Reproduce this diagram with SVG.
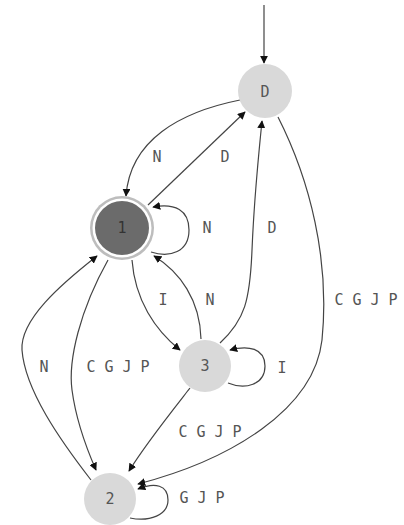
<svg xmlns="http://www.w3.org/2000/svg" width="404" height="525" viewBox="0 0 404 525">
<style>
.e{fill:none;stroke:#444;stroke-width:1.2;marker-end:url(#ah)}
.t{font-family:"DejaVu Sans Mono",monospace;font-size:15px;fill:#555;text-anchor:middle;dominant-baseline:central}
.n{fill:#d9d9d9}
</style>
<defs>
<marker id="ah" viewBox="0 0 10 10" refX="9" refY="5" markerWidth="8" markerHeight="8" markerUnits="userSpaceOnUse" orient="auto">
<path d="M0,0 L10,5 L0,10 z" fill="#111"/>
</marker>
</defs>
<rect width="404" height="525" fill="#fff"/>
<g id="connectors">
<path class="e" d="M264,5 L264,63"/>
<path class="e" d="M240,100 C180,112 130,140 126,196"/>
<path class="e" d="M148,205 L245,112"/>
<path class="e" d="M151,252 C170,258 189,252 189,230 C189,210 175,203 153,207"/>
<path class="e" d="M132,260 C135,300 155,330 180,350"/>
<path class="e" d="M201,339 C200,300 180,272 154,256"/>
<path class="e" d="M220,343 C245,320 250,300 252,250 C254,200 258,160 262,121"/>
<path class="e" d="M278,117 C310,180 330,260 322,340 C314,410 230,460 138,484"/>
<path class="e" d="M228,383 C245,390 265,385 265,366 C265,348 248,345 230,350"/>
<path class="e" d="M190,388 C165,420 145,445 129,471"/>
<path class="e" d="M108,260 C80,310 68,360 72,390 C76,420 85,445 96,470"/>
<path class="e" d="M91,480 C60,440 25,390 22,350 C20,320 60,285 97,256"/>
<path class="e" d="M130,518 C150,522 168,515 168,500 C168,485 155,482 138,489"/>
</g>
<g id="labels">
<text class="t" x="157" y="157">N</text>
<text class="t" x="225" y="157">D</text>
<text class="t" x="207" y="228">N</text>
<text class="t" x="163" y="300">I</text>
<text class="t" x="210" y="300">N</text>
<text class="t" x="272" y="228">D</text>
<text class="t" x="366" y="300">C G J P</text>
<text class="t" x="282" y="368">I</text>
<text class="t" x="118" y="367">C G J P</text>
<text class="t" x="210" y="432">C G J P</text>
<text class="t" x="44" y="367">N</text>
<text class="t" x="202" y="498">G J P</text>
</g>
<g id="node-D">
<circle class="n" cx="265" cy="91" r="27"/>
<text class="t" x="265" y="92">D</text>
</g>
<g id="node-1">
<circle cx="122" cy="228" r="32" fill="#bdbdbd"/>
<circle cx="122" cy="228" r="29.5" fill="#fff"/>
<circle cx="122" cy="228" r="27" fill="#6b6b6b"/>
<text class="t" x="122" y="228" style="fill:#333">1</text>
</g>
<g id="node-3">
<circle class="n" cx="205" cy="366" r="26"/>
<text class="t" x="205" y="366">3</text>
</g>
<g id="node-2">
<circle class="n" cx="110" cy="499" r="26"/>
<text class="t" x="110" y="499">2</text>
</g>
</svg>
